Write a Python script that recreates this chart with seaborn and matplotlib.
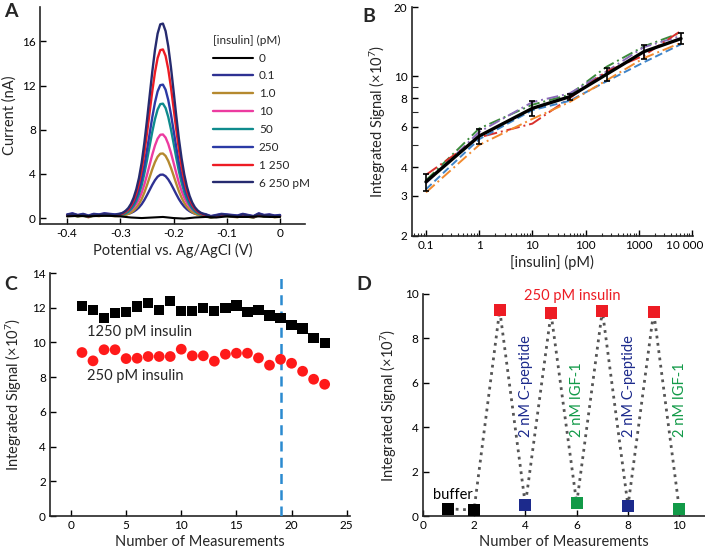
import numpy as np
import pandas as pd
import matplotlib
matplotlib.use("Agg")
import matplotlib.pyplot as plt
import matplotlib.transforms as mtransforms
import seaborn as sns
from matplotlib.ticker import FixedLocator, NullFormatter, LogLocator

# ---------------- data ----------------
# A: voltammograms
potential = np.round(np.concatenate([np.arange(-0.40, -0.305, 0.01),
                                     np.arange(-0.300, -0.1375, 0.005),
                                     np.arange(-0.13, 0.005, 0.01)]), 3)
peak_profile = ([0.0] * 10 +
                [0.006, 0.012, 0.022, 0.036, 0.058, 0.090, 0.134, 0.193, 0.271, 0.373, 0.492,
                 0.619, 0.746, 0.858, 0.944, 0.992, 0.996, 0.957, 0.878, 0.770, 0.645, 0.517,
                 0.396, 0.295, 0.212, 0.148, 0.100, 0.065, 0.040, 0.024, 0.013, 0.006, 0.002] +
                [0.0] * 14)
baseline = ([0.25, 0.35, 0.2, 0.3, 0.15, 0.3, 0.25, 0.35, 0.3, 0.25] +
            [0.25] * 33 +
            [0.1, 0.2, 0.3, 0.25, 0.2, 0.15, 0.3, 0.2, 0.1, 0.35, 0.2, 0.25, 0.15, 0.2])
conc_labels = ["0.1", "1.0", "10", "50", "250", "1 250", "6 250 pM"]
peak_current = [3.7, 5.7, 7.3, 10.2, 11.8, 15.1, 17.4]
base_offset = [0.0, -0.08, 0.05, -0.05, 0.08, -0.02, 0.03]
zero_potential = [-0.40, -0.38, -0.36, -0.34, -0.32, -0.30, -0.28, -0.26, -0.24, -0.22,
                  -0.20, -0.18, -0.16, -0.14, -0.12, -0.10, -0.08, -0.06, -0.04, -0.02, 0.0]
zero_current = [0.15, 0.2, 0.15, 0.2, 0.2, 0.15, 0.05, 0.0, 0.05, 0.1, 0.0, -0.05, 0.05,
                0.1, 0.05, 0.15, 0.1, 0.1, 0.15, 0.1, 0.1]
colors_A = {"0": "black", "0.1": "#2e3192", "1.0": "#b5892f", "10": "#ec3ba0",
            "50": "#0f8b8d", "250": "#2b3aa5", "1 250": "#ed1c24", "6 250 pM": "#262b6f"}

# B: calibration
insulin_pM = [0.1, 1, 10, 50, 250, 1250, 6250]
mean_signal = [3.45, 5.47, 7.23, 8.13, 10.2, 12.8, 14.6]
err_signal = [0.3, 0.4, 0.55, 0.25, 0.7, 0.95, 0.8]
rep_green = [3.5, 5.9, 7.5, 8.3, 11.0, 13.5, 15.5]
rep_purple = [3.4, 5.7, 7.7, 8.4, 10.5, 13.4, 15.0]
rep_red = [3.7, 5.4, 6.2, 8.0, 10.5, 12.3, 15.8]
rep_blue = [3.2, 5.3, 7.1, 7.8, 9.5, 11.5, 13.8]
rep_orange = [3.1, 5.0, 6.5, 7.7, 9.6, 12.0, 14.0]

# C: stability
measurement = list(range(1, 24))
signal_1250 = [12.08, 11.87, 11.41, 11.70, 11.74, 12.07, 12.26, 11.85, 12.39, 11.83, 11.83,
               11.99, 11.80, 12.0, 12.12, 11.74, 11.85, 11.56, 11.39, 11.0, 10.81, 10.25, 9.98]
signal_250 = [9.42, 8.94, 9.58, 9.58, 9.07, 9.09, 9.19, 9.19, 9.19, 9.61, 9.23, 9.23, 8.92,
              9.32, 9.38, 9.38, 9.11, 8.69, 9.03, 8.80, 8.34, 7.88, 7.59]

# D: selectivity
sel_x = [1, 2, 3, 4, 5, 6, 7, 8, 9, 10]
sel_y = [0.32, 0.27, 9.28, 0.5, 9.13, 0.57, 9.25, 0.45, 9.2, 0.3]
sel_kind = ["buffer", "buffer", "insulin", "C-peptide", "insulin", "IGF-1",
            "insulin", "C-peptide", "insulin", "IGF-1"]

red = "#ed1c24"
navy = "#1c2a8c"
green = "#129a48"

# ---------------- style ----------------
sns.set_theme(style="ticks")
plt.rcParams['font.family'] = ['Lato', 'DejaVu Sans']
plt.rcParams['mathtext.fontset'] = 'custom'
plt.rcParams['mathtext.rm'] = 'Lato'
plt.rcParams['mathtext.default'] = 'regular'
plt.rcParams['axes.linewidth'] = 1.2
plt.rcParams['xtick.direction'] = 'in'
plt.rcParams['ytick.direction'] = 'in'

tick_fs = 8.5
lab_fs = 10.5
ylab_sig = r'Integrated Signal ($\times$10$^{7}$)'

fig = plt.figure(figsize=(7.05, 5.5), dpi=100)
axA = fig.add_axes([0.0567, 0.5927, 0.376, 0.3943])
axB = fig.add_axes([0.584, 0.571, 0.399, 0.4156])
axC = fig.add_axes([0.0709, 0.0618, 0.4256, 0.4418])
axD = fig.add_axes([0.5996, 0.0618, 0.4004, 0.4037])

for ax in (axA, axB, axC, axD):
    sns.despine(ax=ax)
    ax.tick_params(labelsize=tick_fs, width=1.0, length=4, pad=3, colors='black')
    ax.tick_params(which='minor', width=0.8, length=2.5)

# ---------------- A ----------------
sns.lineplot(x=zero_potential, y=zero_current, ax=axA, color=colors_A["0"], lw=1.5,
             label="0", zorder=5)
for lab, pk, off in zip(conc_labels, peak_current, base_offset):
    cur = pk * np.array(peak_profile) + np.array(baseline) + off
    sns.lineplot(x=potential, y=cur, ax=axA, color=colors_A[lab], lw=1.7, label=lab)
axA.set_xlim(-0.451, 0.047)
axA.set_ylim(-0.54, 19.1)
axA.set_xticks([-0.4, -0.3, -0.2, -0.1, 0])
axA.set_xticklabels(["-0.4", "-0.3", "-0.2", "-0.1", "0"])
axA.set_yticks([0, 4, 8, 12, 16])
axA.set_xlabel("Potential vs. Ag/AgCl (V)", fontsize=lab_fs, labelpad=3)
axA.set_ylabel("Current (nA)", fontsize=lab_fs, labelpad=4)
leg = axA.legend(title="[insulin] (pM)", loc="upper left", bbox_to_anchor=(0.63, 0.9),
                 frameon=False, fontsize=tick_fs, title_fontsize=tick_fs,
                 handlelength=3.4, labelspacing=0.58, borderpad=0, handletextpad=0.5)
leg._legend_box.align = "left"

# ---------------- B ----------------
reps = [(rep_green, "#3b8a3b", (6, 2, 1, 2)), (rep_purple, "#8a6bb8", (6, 2, 1, 2)),
        (rep_red, "#d8302c", (7, 2, 1, 2)), (rep_blue, "#3f84c8", (4, 2)),
        (rep_orange, "#f28a2e", (6, 2, 1, 2))]
for vals, col, dash in reps:
    ln = sns.lineplot(x=insulin_pM, y=vals, ax=axB, color=col, lw=1.4)
    ln.lines[-1].set_dashes(dash)
sns.lineplot(x=insulin_pM, y=mean_signal, ax=axB, color="black", lw=2.4, zorder=6)
axB.errorbar(insulin_pM, mean_signal, yerr=err_signal, fmt='none', ecolor='black',
             elinewidth=1.2, capsize=2.5, capthick=1.2, zorder=7)
axB.set_xscale("log")
axB.set_yscale("log")
axB.set_xlim(0.054, 10500)
axB.set_ylim(2, 20)
axB.xaxis.set_major_locator(FixedLocator([0.1, 1, 10, 100, 1000, 10000]))
axB.set_xticklabels(["0.1", "1", "10", "100", "1000", "10 000"])
axB.xaxis.set_minor_locator(LogLocator(base=10, subs=np.arange(2, 10)))
axB.xaxis.set_minor_formatter(NullFormatter())
axB.yaxis.set_major_locator(FixedLocator([2, 3, 4, 6, 8, 10, 20]))
axB.set_yticklabels(["2", "3", "4", "6", "8", "10", "20"])
axB.yaxis.set_minor_locator(FixedLocator([5, 7, 9]))
axB.yaxis.set_minor_formatter(NullFormatter())
axB.tick_params(axis='y', which='minor', length=4)
# pull the last tick label a little inward so it stays on the canvas
last = axB.get_xticklabels()[-1]
last.set_transform(last.get_transform() +
                   mtransforms.ScaledTranslation(-7 / 100, 0, fig.dpi_scale_trans))
axB.set_xlabel("[insulin] (pM)", fontsize=lab_fs, labelpad=3)
axB.set_ylabel(ylab_sig, fontsize=lab_fs, labelpad=4)

# ---------------- C ----------------
sns.scatterplot(x=measurement, y=signal_1250, ax=axC, marker="s", s=55, color="black",
                edgecolor="none", zorder=4)
sns.scatterplot(x=measurement, y=signal_250, ax=axC, marker="o", s=60, color="#ff1a1a",
                edgecolor="none", zorder=4)
axC.axvline(19, color="#2b8ad0", lw=1.8, dashes=(4, 2.5), zorder=3)
axC.text(1.5, 10.6, "1250 pM insulin", fontsize=lab_fs, va="center", ha="left")
axC.text(1.5, 8.05, "250 pM insulin", fontsize=lab_fs, va="center", ha="left")
axC.set_xlim(-1.9, 25.3)
axC.set_ylim(0, 14)
axC.set_xticks([0, 5, 10, 15, 20, 25])
axC.set_yticks(range(0, 15, 2))
axC.set_xlabel("Number of Measurements", fontsize=lab_fs, labelpad=3)
axC.set_ylabel(ylab_sig, fontsize=lab_fs, labelpad=6)

# ---------------- D ----------------
sns.lineplot(x=sel_x, y=sel_y, ax=axD, color="#555555", lw=2.0, linestyle=":", zorder=3)
sns.scatterplot(x=sel_x, y=sel_y, hue=sel_kind, ax=axD, marker="s", s=75,
                palette={"buffer": "black", "insulin": red, "C-peptide": navy, "IGF-1": green},
                edgecolor="none", legend=False, zorder=4, clip_on=False)
axD.text(5.82, 9.9, "250 pM insulin", color=red, fontsize=lab_fs, ha="center", va="center")
axD.text(1.16, 0.95, "buffer", color="black", fontsize=lab_fs, ha="center", va="center")
for xv, txt, col in [(4, "2 nM C-peptide", navy), (6, "2 nM IGF-1", green),
                     (8, "2 nM C-peptide", navy), (10, "2 nM IGF-1", green)]:
    axD.text(xv + 0.03, 3.57, txt, color=col, fontsize=lab_fs, rotation=90,
             ha="center", va="bottom")
axD.set_xlim(0, 11)
axD.set_ylim(0, 10)
axD.set_xticks(range(0, 11, 2))
axD.set_yticks(range(0, 11, 2))
axD.set_xlabel("Number of Measurements", fontsize=lab_fs, labelpad=3)
axD.set_ylabel(ylab_sig, fontsize=lab_fs, labelpad=4)

# panel letters
for xp, yp, letter in [(4, 3, "A"), (362, 8, "B"), (4, 276, "C"), (356, 276, "D")]:
    fig.text(xp / 705, 1 - yp / 550, letter, fontsize=14, fontweight="bold",
             ha="left", va="top")

fig.savefig("out.png", dpi=100)
